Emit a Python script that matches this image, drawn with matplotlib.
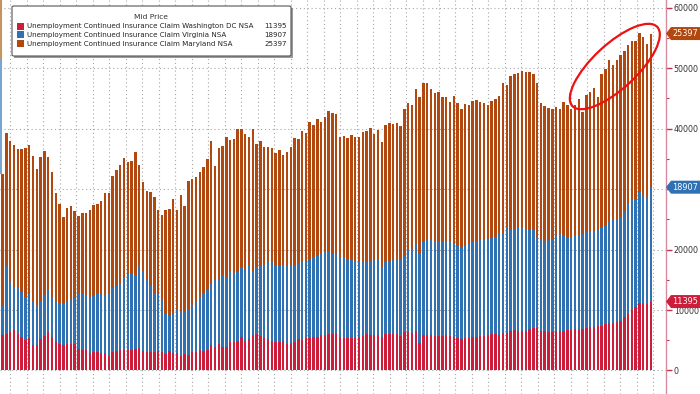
import numpy as np
import matplotlib
matplotlib.use('Agg')
import matplotlib.pyplot as plt
from matplotlib.patches import Ellipse, Polygon, Rectangle, FancyBboxPatch
from matplotlib.lines import Line2D
from matplotlib.transforms import IdentityTransform

# weekly continued claims, stacked: DC (bottom), Virginia, Maryland (top)
dc = [5885, 6050, 6435, 6765, 6050, 5610, 5060, 5335, 4235, 4235, 5225, 5775, 6325, 5500, 4840,
      4400, 4290, 4400, 4400, 4400, 3575, 3410, 3410, 2860, 3025, 3025, 2915, 2860, 2475, 3025,
      3300, 3410, 3410, 3465, 3410, 3575, 3740, 3300, 3135, 3025, 3025, 3300, 3135, 2750, 3300,
      2915, 2860, 2475, 2750, 2640, 3025, 3025, 3410, 3300, 3410, 4235, 3850, 4400, 3960,
      3850, 4675, 4785, 4840, 5610, 4950, 5225, 5885, 6050, 5665, 5390, 5225, 4950, 4675, 4785,
      4840, 4400, 4565, 4785, 5225, 5060, 5335, 5390, 5500, 5610, 5885, 5885, 6050, 6050, 6160,
      5610, 5390, 5335, 5390, 5390, 5610, 5775, 6050, 5940, 5885, 5830, 5500, 6050, 6050, 6050,
      6050, 5775, 6325, 6435, 6160, 6490, 4510, 5885, 5885, 5885, 5665, 5665, 5665, 5885, 5775, 5610,
      5390, 5280, 5335, 5335, 5500, 5610, 5665, 5665, 5885, 6050, 6050, 5940, 6160, 6270, 6600,
      6710, 6600, 6600, 6600, 6875, 6985, 6985, 6600, 6600, 6325, 6435, 6490, 6600, 6600, 6710,
      6710, 6820, 6765, 6930, 7040, 7150, 7150, 7315, 7425, 7700, 7810, 7810, 7975, 8250, 8800,
      9350, 10010, 10560, 11110, 11220, 11000, 11395]
va = [4840, 11165, 8140, 6985, 7590, 7425, 7040, 7315, 7150, 6655, 6325, 6655, 6985, 6600, 6435,
      6765, 6875, 7150, 7315, 7810, 9240, 9405, 9020, 9130, 9515, 9680, 9735, 9680, 10340, 10560,
      10615, 11000, 11825, 12485, 12540, 12265, 13695, 13090, 11825, 11000, 9735, 9350, 8690, 6600, 5775,
      6435, 7315, 7315, 7150, 7535, 7865, 8415, 8800, 9460, 9900, 10065, 11220, 10725, 11880,
      11660, 11550, 11275, 11660, 11440, 11825, 12210, 10615, 11000, 11660, 12045, 12650, 13200, 12540, 12540,
      12595, 12925, 12650, 12650, 12485, 13090, 12815, 12870, 13200, 13365, 13530, 13640, 13750, 13200, 13090,
      13090, 13200, 13090, 12870, 12760, 12430, 12210, 11825, 12100, 12375, 12595, 11550, 11990, 12100, 12210,
      12375, 12485, 12650, 13475, 13915, 14410, 14905, 15290, 15675, 15675, 15785, 15785, 15675, 15565, 15400, 15290,
      15235, 15180, 15400, 15565, 15785, 15840, 15950, 15950, 15840, 15785, 15950, 16720, 16555, 17215, 16775,
      16665, 16885, 16885, 16775, 16335, 16225, 15015, 14960, 14740, 15235, 15125, 15785, 15950, 15675, 15400,
      15400, 15565, 15510, 15620, 15785, 15950, 15950, 16060, 16225, 16225, 16940, 17215, 17050, 17160, 17325,
      18150, 18150, 17765, 18315, 17765, 17600, 18907]
md = [21835, 22110, 23375, 23485, 23045, 23650, 24695, 24640, 24035, 22495, 23760, 23925, 21945, 20735, 18040,
      16335, 14190, 15235, 15400, 14080, 12705, 13255, 13640, 14520, 14850, 14795, 15345, 16720, 16445, 18645,
      19250, 19525, 19965, 18480, 18645, 20240, 16555, 14740, 14630, 15455, 15840, 13860, 13915, 17160, 17600,
      19030, 16280, 19140, 17215, 21175, 20735, 20625, 20570, 20900, 21725, 23650, 18810, 21615, 21230,
      23155, 21890, 22165, 23375, 22825, 22385, 21175, 23375, 20350, 20625, 19525, 19085, 18590, 18810, 19140,
      18150, 18865, 19800, 20955, 20515, 21450, 21065, 22825, 21890, 22550, 21725, 22440, 23100, 23265, 23100,
      19965, 20185, 20075, 20680, 20460, 20570, 21505, 21725, 22110, 20900, 21340, 20680, 22550, 22825, 22550,
      22440, 22165, 24310, 24255, 23760, 25575, 25850, 26290, 26015, 24915, 24475, 24585, 23870, 23815, 23210, 24475,
      23540, 22825, 23265, 22935, 23265, 23210, 22770, 22660, 22165, 22715, 22935, 22715, 24750, 23650, 25300,
      25575, 25740, 26015, 25960, 26125, 25740, 25575, 22715, 22385, 21780, 21615, 21285, 20625, 22110, 21780,
      21175, 21450, 22550, 20240, 22715, 22990, 23540, 21835, 25410, 25850, 26510, 25465, 26235, 26730, 26675,
      26290, 26290, 26125, 26290, 26125, 25410, 25397]

names = ['Unemployment Continued Insurance Claim Washington DC NSA',
         'Unemployment Continued Insurance Claim Virginia NSA',
         'Unemployment Continued Insurance Claim Maryland NSA']
colors = ['#cc1d3a', '#2f71b3', '#b1480f']
ytick_vals = [0, 10000, 20000, 40000, 50000, 60000]  # 30000 sits under the Virginia tag

dc = np.array(dc); va = np.array(va); md = np.array(md)
x = np.arange(len(dc))

W, H = 700, 394
fig = plt.figure(figsize=(W / 100, H / 100), dpi=100)
ax = fig.add_axes([0, 0, 666 / W, 1])

ax.bar(x, dc, width=0.64, color=colors[0], zorder=2)
ax.bar(x, va, width=0.64, bottom=dc, color=colors[1], zorder=2)
ax.bar(x, md, width=0.64, bottom=dc + va, color=colors[2], zorder=2)

ax.set_xlim(-0.71, 175.0)
ax.set_ylim(-3885, 61245)

# monthly vertical grid, 10k horizontal grid
months = 2.06 + np.arange(40) * 4.348
ax.set_xticks(months)
ax.tick_params(axis='x', length=0, labelbottom=False)
ax.set_yticks(np.arange(0, 60001, 10000))
ax.set_yticklabels([str(v) if v in ytick_vals else '' for v in range(0, 60001, 10000)])
ax.set_yticks(np.arange(5000, 60001, 10000), minor=True)
ax.grid(True, which='major', linestyle=(0, (1, 2.5)), color='#a8a8a8', lw=0.8)
ax.set_axisbelow(True)

ax.yaxis.tick_right()
ax.tick_params(axis='y', which='major', direction='out', length=4, width=1,
               color='#c8304c', labelsize=5.7, labelcolor='#333333', pad=1.5)
ax.tick_params(axis='y', which='minor', direction='out', length=2, width=0.8, color='#c8304c')
for s in ['top', 'left', 'bottom']:
    ax.spines[s].set_visible(False)
ax.spines['right'].set_color('#d88aa0')
ax.spines['right'].set_linewidth(1.0)


def fx(px):
    return px / W


def fy(py):
    return 1 - py / H


# left edge remnants
fig.add_artist(Line2D([fx(1), fx(1)], [fy(0), fy(60)], color='#c39460', lw=1.5,
                      transform=fig.transFigure))
fig.add_artist(Line2D([fx(1), fx(1)], [fy(60), fy(173)], color='#79a6cc', lw=1.5,
                      transform=fig.transFigure))

# legend box
fig.add_artist(Rectangle((fx(14), fy(58)), (291 - 12) / W, 50 / H, transform=fig.transFigure,
                         fc='#9a9a9a', ec='none', zorder=4))
fig.add_artist(FancyBboxPatch((fx(12), fy(56)), (291 - 12) / W, 50 / H,
                              boxstyle='round,pad=0,rounding_size=0.003',
                              transform=fig.transFigure, fc='white', ec='#555555', lw=0.8, zorder=5))
fig.text(fx(151), fy(17), 'Mid Price', ha='center', va='center', fontsize=5.4, color='#333333', zorder=6)
last_vals = [dc[-1], va[-1], md[-1]]
for i, (name, c, v) in enumerate(zip(names, colors, last_vals)):
    ry = 26 + i * 8.8
    fig.add_artist(Rectangle((fx(17), fy(ry + 3.5)), 7 / W, 7 / H, transform=fig.transFigure,
                             fc=c, ec='none', zorder=6))
    fig.text(fx(27), fy(ry), name, ha='left', va='center', fontsize=5.1, color='#222222', zorder=6)
    fig.text(fx(287), fy(ry), f'{v}', ha='right', va='center', fontsize=5.1, color='#222222', zorder=6)

# value tags at the right axis
fig.canvas.draw()
levels = [dc[-1], dc[-1] + va[-1], dc[-1] + va[-1] + md[-1]]
x0 = ax.transAxes.transform((1, 0))[0]
for lvl, v, c in zip(levels, last_vals, colors):
    yc = ax.transData.transform((0, lvl))[1]
    pts = [(x0, yc), (x0 + 5, yc + 6.5), (W, yc + 6.5), (W, yc - 6.5), (x0 + 5, yc - 6.5)]
    fig.add_artist(Polygon(pts, closed=True, transform=IdentityTransform(), fc=c, ec='none', zorder=7))
    fig.text((x0 + 6) / W, yc / H, f'{v}', ha='left', va='center', fontsize=5.9,
             color='white', zorder=8)

# red ellipse highlighting the recent run-up
cx, cy = ax.transData.transform((161.5, 50250))
fig.add_artist(Ellipse((cx, cy), 116, 44, angle=43, transform=IdentityTransform(),
                       fill=False, ec='#ee1111', lw=1.6, zorder=9))

fig.savefig('out.png', dpi=100)
